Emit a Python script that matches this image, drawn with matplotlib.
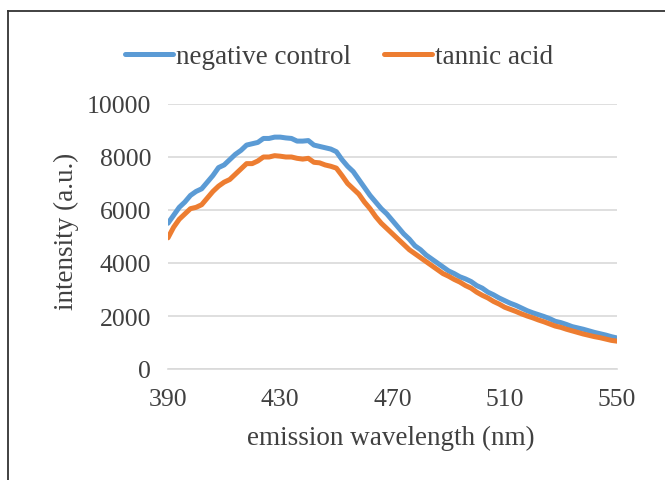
import matplotlib
matplotlib.use("Agg")
import matplotlib.pyplot as plt
from matplotlib.lines import Line2D
import numpy as np

wavelength = list(range(390, 552, 2))
negative_control = [5500, 5800, 6100, 6300, 6550, 6700, 6800, 7050, 7300, 7600,
                    7700, 7900, 8100, 8250, 8450, 8500, 8550, 8700, 8700, 8750,
                    8750, 8720, 8700, 8600, 8600, 8620, 8450, 8400, 8350, 8300,
                    8200, 7900, 7650, 7450, 7150, 6850, 6550, 6300, 6050, 5850,
                    5600, 5350, 5100, 4900, 4650, 4500, 4300, 4150, 4000, 3850,
                    3700, 3600, 3480, 3400, 3300, 3150, 3050, 2900, 2800, 2680,
                    2580, 2480, 2400, 2300, 2200, 2120, 2050, 1980, 1900, 1800,
                    1750, 1680, 1600, 1550, 1500, 1440, 1380, 1330, 1280, 1220, 1170]
tannic_acid = [4950, 5350, 5650, 5850, 6050, 6100, 6200, 6450, 6700, 6900,
               7050, 7150, 7350, 7550, 7750, 7750, 7850, 8000, 8000, 8050,
               8030, 8000, 8000, 7950, 7920, 7950, 7800, 7780, 7700, 7650,
               7580, 7300, 7000, 6800, 6600, 6300, 6050, 5750, 5500, 5300,
               5100, 4900, 4700, 4500, 4350, 4200, 4050, 3900, 3750, 3600,
               3500, 3380, 3280, 3150, 3050, 2900, 2780, 2680, 2550, 2450,
               2330, 2250, 2170, 2080, 2000, 1930, 1850, 1780, 1700, 1620,
               1570, 1500, 1440, 1380, 1320, 1270, 1220, 1180, 1130, 1080, 1050]
x_ticks = [390, 430, 470, 510, 550]
y_ticks = [0, 2000, 4000, 6000, 8000, 10000]

plt.rcParams['font.family'] = ['Liberation Serif', 'DejaVu Serif']

W, H = 665, 481
fig = plt.figure(figsize=(W/100, H/100), dpi=100)
ax = fig.add_axes([168/W, 1-370/H, (617-168)/W, (370-105)/H])

ax.plot(wavelength, negative_control, color='#5B9BD5', lw=3.6, label='negative control',
        solid_capstyle='round', solid_joinstyle='round')
ax.plot(wavelength, tannic_acid, color='#ED7D31', lw=3.6, label='tannic acid',
        solid_capstyle='round', solid_joinstyle='round')

ax.set_xlim(390, 550)
ax.set_ylim(0, 10000)
ax.set_xticks(x_ticks)
ax.set_yticks(y_ticks)
ax.set_yticklabels([str(v) for v in y_ticks])
for s in ['top', 'right', 'left']:
    ax.spines[s].set_visible(False)
ax.spines['bottom'].set_color('#d9d9d9')
ax.spines['bottom'].set_linewidth(1.2)
ax.grid(axis='y', color='#d9d9d9', lw=1.2)
ax.set_axisbelow(True)
ax.tick_params(length=0, labelsize=18.5, colors='#404040')
ax.tick_params(axis='x', pad=14)
ax.tick_params(axis='y', pad=12)
ax.set_xlabel('emission wavelength (nm)', fontsize=19.5, color='#404040')
ax.set_ylabel('intensity (a.u.)', fontsize=19.5, color='#404040')
ax.xaxis.label.set_va('center')
ax.yaxis.label.set_va('center')
ax.xaxis.set_label_coords((391-168)/449, (370-438)/265)
ax.yaxis.set_label_coords((66-168)/449, (370-231)/265)

leg = fig.legend(*ax.get_legend_handles_labels(), loc='center',
                 bbox_to_anchor=(339/W, 1-58/H), ncol=2, frameon=False,
                 fontsize=19.5, handlelength=1.8, handletextpad=0.1, columnspacing=1.2,
                 labelcolor='#404040', borderpad=0)

fig.add_artist(Line2D([8/W, 8/W], [0, 1-12/H], transform=fig.transFigure, color='#333333', lw=1.3))
fig.add_artist(Line2D([8/W, 1], [1-12/H, 1-12/H], transform=fig.transFigure, color='#333333', lw=1.3))

fig.savefig('out.png', dpi=100)
